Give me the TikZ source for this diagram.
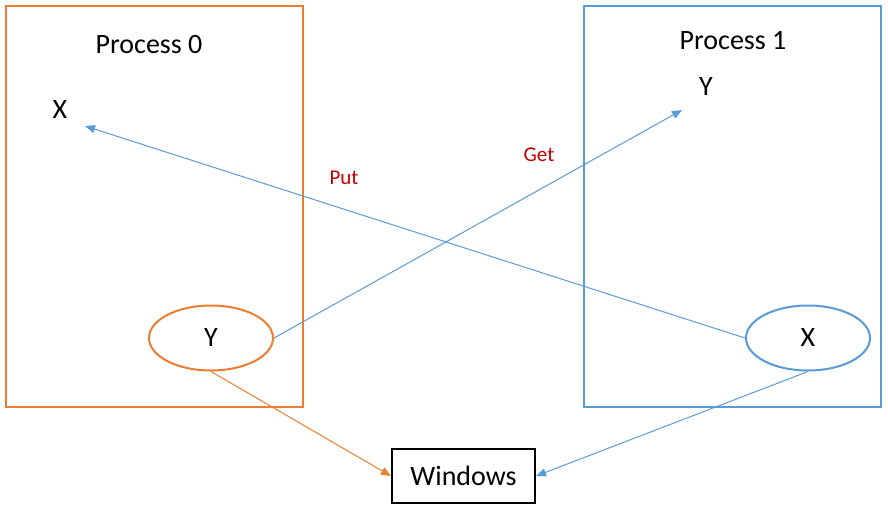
\documentclass[tikz,border=0pt]{standalone}
\usepackage{fontspec}
\setmainfont{Carlito}
\usetikzlibrary{shapes.geometric,arrows.meta}
\definecolor{orng}{HTML}{ED7D31}
\definecolor{blu}{HTML}{5B9BD5}
\definecolor{dred}{HTML}{C00000}
\begin{document}
\begin{tikzpicture}[x=1pt,y=-1pt,
  procbox/.style={draw=#1,line width=2pt,minimum width=297pt,minimum height=401pt,inner sep=0pt},
  ell/.style={draw=#1,line width=2pt,ellipse,minimum width=124pt,minimum height=65pt,inner sep=0pt,font=\fontsize{28}{34}\selectfont},
  big/.style={font=\fontsize{28}{34}\selectfont,inner sep=0pt},
  lbl/.style={font=\fontsize{21}{25}\selectfont,text=dred,inner sep=0pt},
  conn/.style={draw=#1,line width=1pt,-{Triangle[length=10pt,width=8pt]}}]
\useasboundingbox[fill=white] (0,0) rectangle (888,515);
\node[procbox=orng] (p0) at (154.5,206.5) {};
\node[procbox=blu] (p1) at (732.5,206.5) {};
\node[big] (t0) at (149,45) {Process 0};
\node[big] (t1) at (733,41) {Process 1};
\node[big] (x0) at (60,110) {X};
\node[big] (y1) at (706,87) {Y};
\coordinate (x0tip) at (85,126);
\coordinate (y1tip) at (682,110);
\node[ell=orng] (y0) at (211,338) {Y};
\node[ell=blu] (x1) at (808,338) {X};
\node[draw=black,line width=2pt,minimum width=143pt,minimum height=54pt,inner sep=0pt,big] (win) at (463.5,476) {Windows};
\draw[conn=blu] (x1.west) -- (x0tip);
\draw[conn=blu] (y0.east) -- (y1tip);
\draw[conn=orng] (y0.south) -- (win.west);
\draw[conn=blu] (x1.south) -- (win.east);
\node[lbl] (put) at (344,178) {Put};
\node[lbl] (get) at (539,155) {Get};
\end{tikzpicture}
\end{document}
